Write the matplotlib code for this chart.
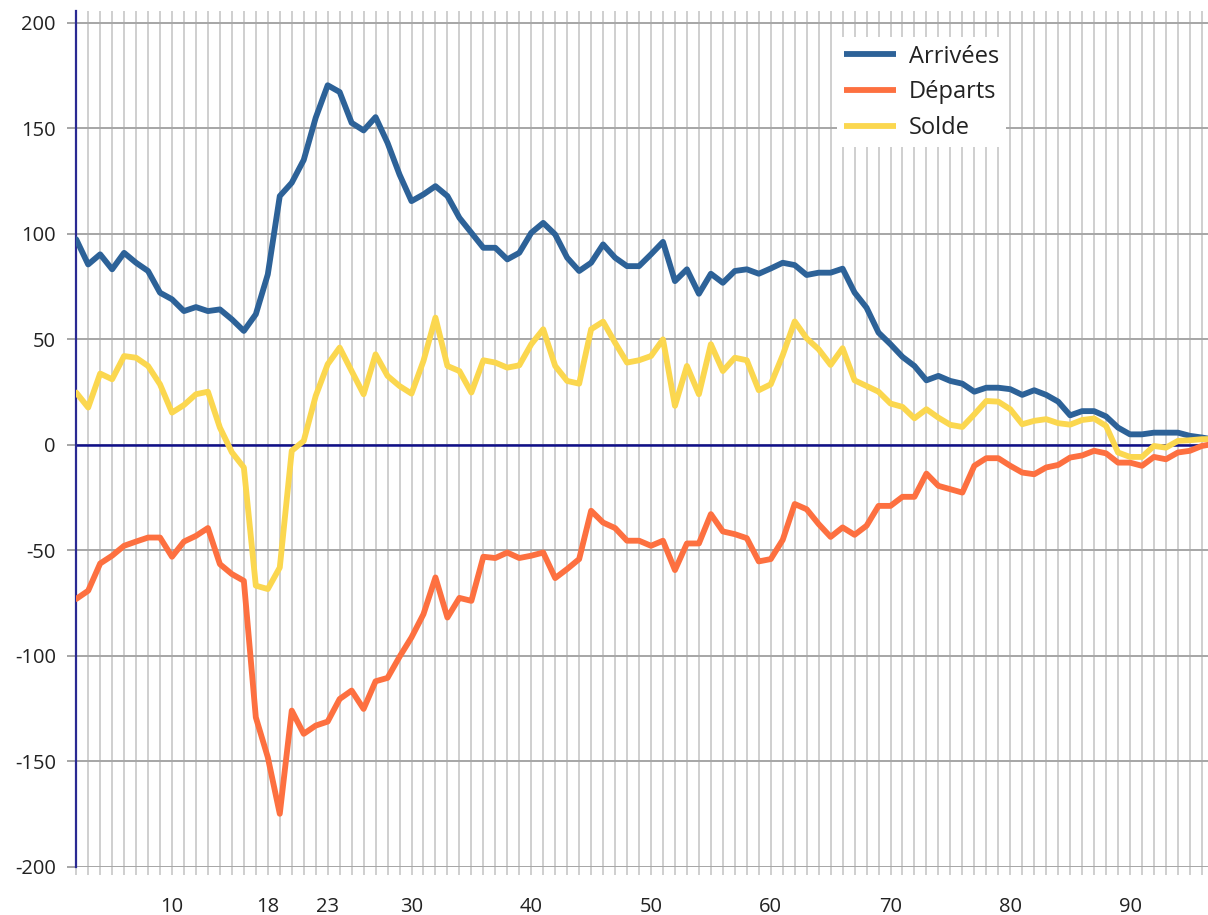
import matplotlib
matplotlib.use("Agg")
import matplotlib.pyplot as plt
from matplotlib.ticker import FixedLocator

plt.rcParams['font.family'] = ['Open Sans', 'DejaVu Sans']

ages = list(range(2, 98))

arrivees = [97.4, 85.5, 90.3, 83.2, 91.0, 86.3, 82.4, 72.1, 69.0, 63.4,
            65.3, 63.4, 64.2, 59.5, 54.0, 61.9, 80.8, 117.9, 124.2, 135.0,
            155.0, 170.4, 167.2, 152.6, 149.0, 155.3, 143.1, 128.1, 115.5, 118.7,
            122.6, 117.9, 107.6, 100.5, 93.4, 93.4, 87.9, 91.0, 100.5, 105.2,
            99.7, 88.7, 82.4, 86.3, 95.0, 88.7, 84.7, 84.7, 90.3, 96.2,
            77.6, 83.2, 71.6, 81.1, 76.8, 82.4, 83.2, 81.1, 83.6, 86.3,
            85.2, 80.5, 81.6, 81.6, 83.5, 72.2, 65.0, 53.2, 47.7, 41.7,
            37.4, 30.6, 32.7, 30.3, 29.0, 25.2, 27.1, 27.1, 26.4, 23.7,
            25.9, 23.7, 20.5, 14.0, 16.0, 16.0, 13.5, 8.2, 5.0, 5.0,
            5.8, 5.8, 5.8, 4.3, 3.5, 2.5]

departs = [-73.0, -69.1, -56.2, -52.5, -47.8, -45.8, -43.9, -43.9, -53.0, -45.8,
           -43.1, -39.4, -56.5, -61.2, -64.4, -129.1, -148.0, -174.8, -125.9, -136.9,
           -133.0, -131.1, -120.4, -116.4, -125.1, -112.0, -110.4, -100.4, -91.2, -80.2,
           -62.8, -81.8, -72.5, -73.9, -53.0, -53.6, -51.0, -53.6, -52.5, -51.0,
           -63.1, -58.8, -54.1, -31.2, -36.8, -39.4, -45.4, -45.4, -47.8, -45.4,
           -59.3, -46.7, -46.7, -32.8, -41.0, -42.3, -44.2, -55.2, -54.1, -45.0,
           -28.0, -30.5, -37.5, -43.6, -39.1, -42.6, -38.3, -28.9, -28.9, -24.6,
           -24.6, -13.6, -19.4, -21.0, -22.6, -9.9, -6.3, -6.3, -9.9, -13.1,
           -13.9, -10.7, -9.5, -6.0, -5.0, -2.8, -4.0, -8.4, -8.4, -9.9,
           -5.7, -6.8, -3.6, -2.8, -0.5, 0.5]

solde = [24.8, 17.7, 33.8, 31.1, 42.1, 41.3, 37.4, 28.7, 15.3, 18.9,
         24.0, 25.2, 8.2, -3.5, -10.7, -66.7, -68.3, -58.1, -2.8, 1.9,
         23.2, 38.2, 46.1, 35.0, 24.0, 42.9, 32.7, 27.9, 24.3, 39.8,
         60.3, 37.4, 35.0, 24.8, 40.1, 39.0, 36.6, 37.7, 47.7, 54.8,
         37.4, 30.3, 29.0, 54.8, 58.4, 48.4, 39.0, 40.1, 42.1, 50.0,
         18.5, 37.4, 24.0, 47.7, 35.0, 41.3, 40.1, 25.9, 28.7, 42.5,
         58.5, 50.5, 45.3, 37.9, 45.8, 30.6, 27.9, 25.2, 19.6, 18.0,
         12.6, 16.9, 12.9, 9.5, 8.5, 14.5, 20.8, 20.5, 16.9, 9.8,
         11.4, 12.2, 10.3, 9.6, 11.8, 12.5, 9.0, -3.6, -5.7, -5.7,
         -0.5, -1.3, 1.9, 2.2, 2.7, 2.8]

series_names = ["Arrivées", "Départs", "Solde"]
series_colors = ["#2d6298", "#fd7040", "#fbd74f"]

x_labelled = [10, 18, 23, 30, 40, 50, 60, 70, 80, 90]
y_ticks = [-200, -150, -100, -50, 0, 50, 100, 150, 200]

W, H = 1208, 915
fig = plt.figure(figsize=(W / 100, H / 100), dpi=100)
ax = fig.add_axes([76.2 / W, 48 / H, (W - 76.2) / W, (867 - 11.4) / H])

for name, vals, col in zip(series_names, [arrivees, departs, solde], series_colors):
    ax.plot(ages, vals, color=col, lw=4.2, label=name, solid_joinstyle='round',
            solid_capstyle='round', zorder=3)

ax.set_xlim(2, 2 + (W - 76.2) / 11.975)
ax.set_ylim(-200, 205.4)

ax.xaxis.set_major_locator(FixedLocator(ages))
ax.set_xticklabels([str(a) if a in x_labelled else "" for a in ages])
ax.set_yticks(y_ticks)
ax.set_yticklabels([str(v) for v in y_ticks])

ax.grid(axis='x', color='#c2c2c2', lw=1.1, zorder=0)
ax.grid(axis='y', color='#a6a6a6', lw=1.4, zorder=0)
ax.tick_params(axis='x', length=6, width=1.1, color='#c2c2c2', pad=15.5,
               labelsize=14.5, labelcolor='#222222')
ax.tick_params(axis='y', length=6.7, width=1.4, color='#a6a6a6', pad=8,
               labelsize=14.5, labelcolor='#222222')

for s in ['top', 'right', 'bottom']:
    ax.spines[s].set_visible(False)
ax.spines['left'].set_color('#2a2a92')
ax.spines['left'].set_linewidth(1.6)
ax.axhline(0, color='#10108a', lw=1.8, zorder=2)

leg = ax.legend(loc='upper left', bbox_to_anchor=(0.6722, 0.9695),
                frameon=True, fancybox=False, fontsize=17,
                handlelength=2.2, handletextpad=0.55, labelspacing=0.5,
                borderpad=0.3, borderaxespad=0)
leg.get_frame().set_facecolor('white')
leg.get_frame().set_edgecolor('none')
leg.get_frame().set_alpha(1)
for line in leg.get_lines():
    line.set_linewidth(4.2)
    line.set_solid_capstyle('butt')
for t in leg.get_texts():
    t.set_color('#222222')

fig.savefig("out.png", dpi=100)
